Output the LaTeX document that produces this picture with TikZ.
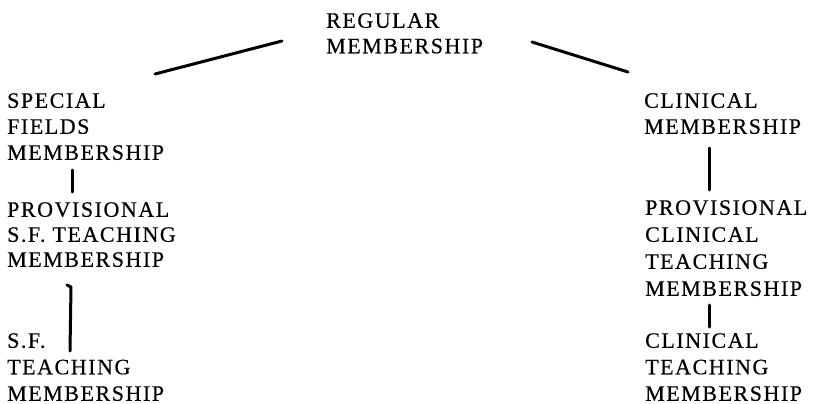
\documentclass[tikz,border=0pt]{standalone}
\usepackage{fontspec}
\setmainfont{Liberation Serif}[LetterSpace=7,FakeBold=0.4]
\usetikzlibrary{calc}
\begin{document}
\begin{tikzpicture}[x=1pt,y=-1pt,
  lbl/.style={anchor=north west, inner sep=0pt, align=left},
  conn/.style={line width=3pt, line cap=round, line join=round}]
\useasboundingbox (0,0) rectangle (814,404);
\node[lbl, font=\fontsize{22}{25.5}\selectfont] (reg) at (326,13) {REGULAR\\MEMBERSHIP};
\node[lbl, font=\fontsize{22}{26}\selectfont] (sf) at (7,93) {SPECIAL\\FIELDS\\MEMBERSHIP};
\node[lbl, font=\fontsize{22}{25}\selectfont] (psf) at (7,202) {PROVISIONAL\\S.F. TEACHING\\MEMBERSHIP};
\node[lbl, font=\fontsize{22}{26.5}\selectfont] (sft) at (7,333) {S.F.\\TEACHING\\MEMBERSHIP};
\node[lbl, font=\fontsize{22}{26}\selectfont] (cm) at (644,93) {CLINICAL\\MEMBERSHIP};
\node[lbl, font=\fontsize{22}{27}\selectfont] (pct) at (645,200) {PROVISIONAL\\CLINICAL\\TEACHING\\MEMBERSHIP};
\node[lbl, font=\fontsize{22}{26.5}\selectfont] (ct) at (645,333) {CLINICAL\\TEACHING\\MEMBERSHIP};
% connectors
\draw[conn] ($(sf.north west)+(148,-19)$) -- ($(reg.north west)+(-44,28)$);
\draw[conn] ($(reg.north west)+(206,29)$) -- ($(cm.north west)+(-16,-21)$);
\draw[conn] ($(sf.north west)+(65,77)$) -- ($(psf.north west)+(65,-10)$);
\draw[conn] ($(psf.north west)+(60,83)$) -- ($(psf.north west)+(64,85)$) -- ($(sft.north west)+(63,18)$);
\draw[conn] ($(cm.north west)+(65,55)$) -- ($(pct.north west)+(64,-10)$);
\draw[conn] ($(pct.north west)+(64,105)$) -- ($(ct.north west)+(64,-6)$);
\end{tikzpicture}
\end{document}
